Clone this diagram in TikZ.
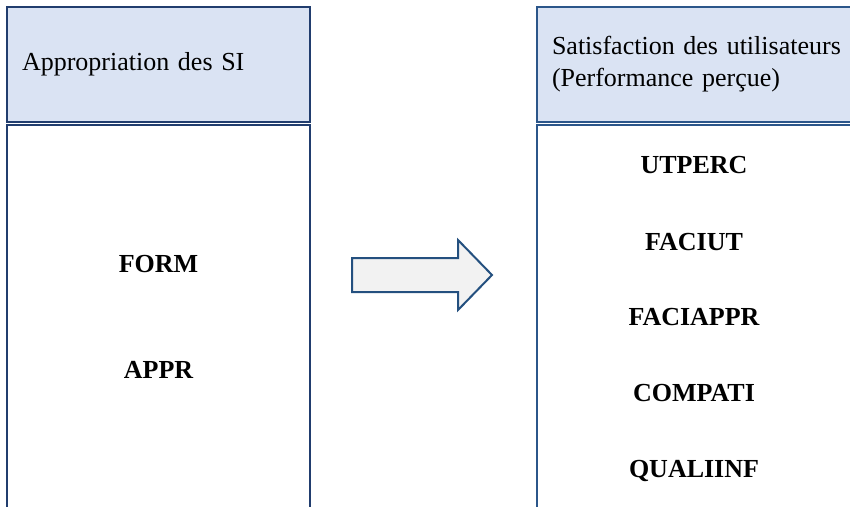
\documentclass[tikz,border=0pt]{standalone}
\usepackage{fontspec}
\setmainfont{Liberation Serif}
\usetikzlibrary{positioning,calc}
\definecolor{headfill}{HTML}{DAE3F3}
\definecolor{leftline}{HTML}{213D6E}
\definecolor{rightline}{HTML}{2B568A}
\definecolor{arrowline}{HTML}{24507F}
\definecolor{arrowfill}{HTML}{F2F2F2}

\begin{document}
\begin{tikzpicture}[x=1pt,y=-1pt,
    header/.style={draw=#1, fill=headfill, line width=2pt, rectangle, anchor=north west,
        minimum height=115pt, inner xsep=15pt, inner ysep=0pt, outer sep=0pt, align=left,
        font=\fontsize{26}{32}\selectfont},
    body/.style={draw=#1, line width=2pt},
    varname/.style={anchor=base, font=\fontsize{26}{31}\selectfont\bfseries}]
    \useasboundingbox (0,0) rectangle (850,506);
    \clip (0,0) rectangle (850,506);

    % Left box
    \node[header=leftline, minimum width=303pt, text width=273pt] (lefthead) at (7,7) {Appropriation des SI};
    \draw[body=leftline] ([yshift=-3pt]lefthead.south west) ++(0,400) -- ([yshift=-3pt]lefthead.south west)
        -- ([yshift=-3pt]lefthead.south east) -- ++(0,400);

    \node[varname] (form) at (158.5,272) {FORM};
    \node[varname] (appr) at (158.5,378) {APPR};

    % Right box
    \node[header=rightline, minimum width=316pt, text width=300pt] (righthead) at (537,7) {Satisfaction des utilisateurs\\(Performance perçue)};
    \draw[body=rightline] ([yshift=-3pt]righthead.south west) ++(0,400) -- ([yshift=-3pt]righthead.south west)
        -- ([yshift=-3pt]righthead.south east) -- ++(0,400);

    \node[varname] (utperc) at (694,173) {UTPERC};
    \node[varname] (faciut) at (694,250) {FACIUT};
    \node[varname] (faciappr) at (694,325) {FACIAPPR};
    \node[varname] (compati) at (694,401.5) {COMPATI};
    \node[varname] (qualiinf) at (694,477.5) {QUALIINF};

    % Block arrow between the boxes
    \coordinate (tail) at (352,275);
    \draw[draw=arrowline, fill=arrowfill, line width=2pt, line join=miter]
        (tail) ++(0,-17) -- ++(106,0) -- ++(0,-18) -- ++(34,35) -- ++(-34,35) -- ++(0,-18) -- ++(-106,0) -- cycle;
\end{tikzpicture}
\end{document}
